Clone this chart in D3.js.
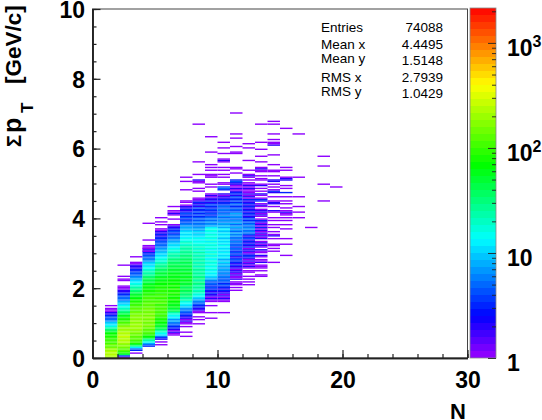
<!DOCTYPE html>
<html>
<head>
<meta charset="utf-8">
<script src="https://cdn.jsdelivr.net/npm/d3@7"></script>
<style>
  html, body { margin: 0; background: #fff; }
  text { font-family: "Liberation Sans", Arial, sans-serif; fill: #000; }
  .bold { font-weight: bold; }
</style>
</head>
<body>
<div id="chart"></div>
<script>
var svgWidth = 542;
var svgHeight = 420;

var binWidth = 0.04;  // y bin of the histogram in GeV/c

// counts per N column, each piece is [first y bin, count, count, ...]
var col1 = [[0,210,240,220,250,230,200,190,150,130,140,110,105,100,90,95,85,80,70,60,40,32,25,18,13,11,9,7,5,4,4,3,2,2,1,1,1],[37,1]];
var col2 = [[0,1,3,40,70,95,120,130,140,160,170,190,220,240,250,230,260,240,220,230,210,200,190,170,140,125,110,100,85,75,60,55,45,38,30,25,20,16,14,11,9,8,6,5,5,4,3,3,2,2,1,1,1],[55,1],[56,1],[58,1],[66,1]];
var col3 = [[3,1],[5,3,5,12,25,50,75,90,105,120,130,125,140,150,170,180,190,200,185,195,200,180,190,175,170,180,165,150,140,130,120,125,110,100,95,90,85,75,70,60,55,50,42,38,32,28,24,20,18,15,12,10,8,7,6,5,4,4,3,3,2,2,2,1,1],[72,1]];
var col4 = [[8,3,5,8,14,25,28,60,70,85,100,110,125,130,140,150,160,145,150,165,155,160,170,150,165,145,155,140,150,135,130,120,125,110,115,100,105,90,95,85,80,75,70,60,65,55,50,45,40,42,35,30,28,25,22,20,17,15,13,11,10,9,7,6,5,5,4,3,3,2,2,1,1],[76,1],[78,1],[80,1],[84,1],[96,1]];
var col5 = [[9,1],[11,1],[13,2,3,6,10,14,18,25,35,40,50,55,60,65,70,80,85,90,100,95,105,110,100,115,105,110,95,120,100,110,90,105,95,100,85,90,95,80,85,75,70,72,65,60,55,58,50,45,48,40,38,35,30,28,26,22,20,18,16,14,12,11,10,9,8,8,7,6,5,5,4,4,3,3,3,2,3,2,2,1,1],[95,1],[97,1],[100,1]];
var col6 = [[16,1,1,2,1,2,3,3,4,5,6,8,7,10,12,14,16,25,35,42,50,55,60,62,70,65,75,80,72,85,78,90,82,75,88,70,80,75,72,68,65,70,60,58,62,55,50,48,52,45,42,40,38,35,32,30,28,25,24,22,20,18,16,14,12,11,10,9,8,7,6,5,5,4,3,4,3,3,2,2,1],[99,1],[102,1,2,1,1],[108,1]];
var col7 = [[15,1],[18,1],[22,1],[24,1,1,2,1,2,2,3,3,4,5,6,7,9,11,13,15,18,22,25,28,32,30,35,38,40,42,38,45,50,48,52,55,50,58,52,48,55,50,45,48,42,46,40,38,42,36,35,32,34,30,28,26,28,24,22,24,20,18,20,16,14,15,13,12,11,12,10,9,8,8,7,6,5,4,4,3,4,3,3,4,3,2,3,2,2,1,0,1,1],[120,1],[126,1],[129,1]];
var col8 = [[24,1],[27,1],[29,1],[32,1,1,2,2,3,3,4,5,6,7,9,11,14,16,18,22,20,25,28,24,26,30,27,25,28,30,26,24,28,25,22,26,24,20,23,25,21,24,22,20,23,19,21,22,18,20,17,19,16,18,14,15,13,14,12,10,11,9,10,8,8,7,6,6,5,6,4,5,4,3,4,3,4,3,3,4,2,3,2,3,2,1,1],[119,1,0,1],[125,1,1,2],[131,1],[140,1],[167,1]];
var col9 = [[28,1],[32,1],[37,1],[40,1,1,2,1,2,2,3,2,3,3,4,3,4,5,4,6,8,9,11,13,12,14,13,16,14,15,17,14,16,18,15,13,17,15,19,14,16,13,18,15,17,14,16,13,17,15,18,14,16,13,15,17,14,13,8,7,6,7,5,6,5,4,3,4,3,3,4,3,3,4,3,2,3,2,2,1,2,1],[122,1,0,1],[129,1,1],[131,1],[134,1,0,1,0,1],[147,1],[158,1]];
var col10 = [[32,1],[40,1,1,2,1,2,1,2,2,3,2,3,3,4,3,4,5,4,5,6,5,7,6,7,8,7,8,9,8,10,9,8,10,12,11,13,12,10,13,11,12,14,11,13,10,12,9,11,13,10,12,9,10,12,8,9,7,8,6,7,6,5,7,5,6,4,5,6,4,5,4,3,3,2,3,2,2,1,2,0,0,3,5,4,0,1,1],[129,1,0,1],[134,1],[136,1],[140,1,2,1],[146,1],[150,1],[154,1]];
var col11 = [[48,1],[50,1],[52,1,1,1,0,2,1,1,2,1,2,2,1,2,2,3,2,3,3,4,3,2,4,3,4,3,4,5,3,5,4,5,6,4,6,5,7,6,8,5,7,6,8,7,5,8,6,7,5,6,7,6,8,5,4,5,4,3,4,5,3,4,3,3,4,2,3,3,2,1,2,1,1,2,1],[125,3,4,3],[132,1],[135,1,1],[146,1,1],[151,1],[157,1],[160,1],[175,1]];
var col12 = [[52,1,0,1,0,1,0,1,0,0,1,1,0,1,2,1,2,1,2,1,2,3,3,2,1,2,2,1,3,2,3,2,3,2,4,3,2,4,5,6,5,7,6,5,6,4,5,3,4,3,2,3,3,2,3,2,2,3,2,3,2,2,3,1,2,1,2,1,1,1,2,1,2,1,1,0,1,0,1,2,1],[134,1],[141,1],[150,1],[153,1]];
var col13 = [[58,1,1,0,0,1,0,1,1,1,0,2,1,1,0,1,2,0,1,1,2,0,1,2,1,2,1,0,2,1,2,1,2,1,2,1,3,1,2,1,2,3,1,0,1,2,1,2,2,1,0,1,2,1,0,3,3,1,0,1,2,0,1,0,1,0,2,1,0,0,1],[128,1,0,1],[133,1,1,2,1],[140,1],[144,1],[149,1],[154,1],[167,1]];
var col14 = [[68,1],[76,1],[78,1],[80,1,1],[85,1,0,2,1,0,1],[93,1,0,1,0,0,1,0,1,0,0,0,1,2,0,0,1,0,2,2,1,0,0,1,0,0,2,3,1,0,1,0,1,0,2,2,0,0,1],[133,1,1],[138,1],[145,1],[152,2,1,1],[156,1],[160,1],[167,1,0,1]];
var col15 = [[73,1],[81,1],[85,1],[92,1,0,0,1,0,0,1],[100,1,0,1,1,2,1,0,1],[110,1,0,1],[115,1,0,0,3,0,0,1,0,1],[127,2,2,1],[134,1,0,1],[164,1]];
var col16 = [[100,1],[104,1],[108,1],[115,1],[129,1],[160,1]];
var col17 = [[93,1]];
var col18 = [[112,1],[124,1],[137,1],[144,1]];
var col19 = [[122,1]];
var allCols = [col1,col2,col3,col4,col5,col6,col7,col8,col9,col10,col11,col12,col13,col14,col15,col16,col17,col18,col19];

var xTicks = [0, 10, 20, 30];
var yTicks = [0, 2, 4, 6, 8, 10];
var zTicks = [1, 10, 100, 1000];
var zMinor = [2,3,4,5,6,7,8,9,20,30,40,50,60,70,80,90,200,300,400,500,600,700,800,900,2000];
var zMax = 2150;
var nColors = 50;

// palette stops, fraction of the log z range -> colour
var stopFrac = [0, 0.12, 0.34, 0.55, 0.78, 1];
var stopColors = ["#9a00ff", "#0000ff", "#00ffff", "#00ff00", "#ffff00", "#ff0000"];
var statNames = ["Entries", "Mean x", "Mean y", "RMS x", "RMS y"];
var statValues = ["74088", "4.4495", "1.5148", "2.7939", "1.0429"];
var statNameY = [32, 49, 63, 82, 96];
var statValueY = [32, 49, 65, 82, 98];

var svg = d3.select("#chart")
  .append("svg")
  .attr("width", svgWidth)
  .attr("height", svgHeight)
  .style("display", "block");

var xScale = d3.scaleLinear().domain([0, 30]).range([92.5, 467.5]);
var yScale = d3.scaleLinear().domain([0, 10]).range([358, 9]);
var zScale = d3.scaleLog().domain([1, zMax]).range([358, 8]);

var frac = d3.scaleLinear().domain(stopFrac).range(stopColors);

// colour of a count, quantised to the 50 palette steps
function colorOf(v) {
  var f = Math.log(v) / Math.log(zMax);
  var i = Math.min(nColors - 1, Math.floor(f * nColors));
  return frac((i + 0.5) / nColors);
}

// flatten the columns into cells
var cells = [];
allCols.forEach(function(col, c) {
  col.forEach(function(piece) {
    piece.slice(1).forEach(function(v, k) {
      if (v > 0) cells.push({ n: c + 1, bin: piece[0] + k, v: v });
    });
  });
});

svg.append("g").selectAll("rect")
  .data(cells)
  .enter()
  .append("rect")
  .attr("x", d => xScale(d.n))
  .attr("width", d => xScale(d.n + 1) - xScale(d.n))
  .attr("y", d => yScale((d.bin + 1) * binWidth))
  .attr("height", d => yScale(d.bin * binWidth) - yScale((d.bin + 1) * binWidth))
  .attr("fill", d => colorOf(d.v));

// frame
svg.append("rect")
  .attr("x", 92.5).attr("y", 9)
  .attr("width", 375).attr("height", 349)
  .attr("fill", "none")
  .attr("stroke", "#444")
  .attr("stroke-width", 1);

// minor ticks first, then major ones with labels
function styleAxis(g) {
  g.select(".domain").attr("stroke", "#222").attr("stroke-width", 1.6);
  g.selectAll("line").attr("stroke", "#222").attr("stroke-width", 1.2);
}

svg.append("g")
  .attr("transform", "translate(0,358)")
  .call(d3.axisTop(xScale).tickValues(d3.range(0, 31, 2)).tickSize(4).tickSizeOuter(0).tickFormat(""))
  .call(styleAxis);
var xAxis = svg.append("g")
  .attr("transform", "translate(0,358)")
  .call(d3.axisTop(xScale).tickValues(xTicks).tickSize(8).tickSizeOuter(0))
  .call(styleAxis);
xAxis.selectAll("text")
  .attr("class", "bold")
  .attr("y", 30)
  .attr("dy", 0)
  .attr("font-size", 23)
  .attr("text-anchor", "middle");

svg.append("g")
  .attr("transform", "translate(92.5,0)")
  .call(d3.axisRight(yScale).tickValues(d3.range(0, 10.1, 0.5)).tickSize(4).tickSizeOuter(0).tickFormat(""))
  .call(styleAxis);
var yAxis = svg.append("g")
  .attr("transform", "translate(92.5,0)")
  .call(d3.axisRight(yScale).tickValues(yTicks).tickSize(8).tickSizeOuter(0))
  .call(styleAxis);
yAxis.selectAll("text")
  .attr("class", "bold")
  .attr("x", -7.5)
  .attr("dy", "0.36em")
  .attr("font-size", 23)
  .attr("text-anchor", "end");

// palette
var paletteSteps = d3.range(nColors);
svg.append("g").selectAll("rect")
  .data(paletteSteps)
  .enter()
  .append("rect")
  .attr("x", 470)
  .attr("width", 26)
  .attr("y", d => 358 - (d + 1) * 350 / nColors)
  .attr("height", 350 / nColors)
  .attr("fill", d => frac((d + 0.5) / nColors));

svg.append("rect")
  .attr("x", 470).attr("y", 8)
  .attr("width", 26).attr("height", 350)
  .attr("fill", "none")
  .attr("stroke", "#888")
  .attr("stroke-width", 0.8);

svg.append("g")
  .attr("transform", "translate(496,0)")
  .call(d3.axisLeft(zScale).tickValues(zMinor).tickSize(4).tickSizeOuter(0).tickFormat(""))
  .call(g => g.select(".domain").remove())
  .call(g => g.selectAll("line").attr("stroke", "#222").attr("stroke-width", 0.9));
svg.append("g")
  .attr("transform", "translate(496,0)")
  .call(d3.axisLeft(zScale).tickValues(zTicks).tickSize(8).tickSizeOuter(0).tickFormat(""))
  .call(g => g.select(".domain").remove())
  .call(g => g.selectAll("line").attr("stroke", "#222").attr("stroke-width", 0.9));

var zLabels = svg.append("g").selectAll("text")
  .data(zTicks)
  .enter()
  .append("text")
  .attr("class", "bold")
  .attr("font-size", 23)
  .attr("x", 507)
  .attr("y", d => zScale(d) + 13);
zLabels.append("tspan").text(d => d < 100 ? String(d) : "10");
zLabels.filter(d => d >= 100).append("tspan")
  .attr("font-size", 16)
  .attr("dy", -9)
  .text(d => Math.round(Math.log10(d)));

// stats box text
svg.append("g").selectAll("text")
  .data(statNames)
  .enter()
  .append("text")
  .attr("x", 321)
  .attr("y", (d, i) => statNameY[i])
  .attr("font-size", 13.5)
  .text(d => d);
svg.append("g").selectAll("text")
  .data(statValues)
  .enter()
  .append("text")
  .attr("x", 443)
  .attr("y", (d, i) => statValueY[i])
  .attr("font-size", 13.5)
  .attr("text-anchor", "end")
  .text(d => d);

// axis titles
svg.append("text")
  .attr("class", "bold")
  .attr("x", 450)
  .attr("y", 419)
  .attr("font-size", 22)
  .text("N");

var yTitle = svg.append("g").attr("transform", "translate(21,147) rotate(-90)");
yTitle.append("text").attr("class", "bold").attr("font-size", 20).attr("x", 0).attr("y", 0).text("Σ");
yTitle.append("text").attr("class", "bold").attr("font-size", 25).attr("x", 14).attr("y", 0).text("p");
yTitle.append("text").attr("class", "bold").attr("font-size", 17).attr("x", 34).attr("y", 12).text("T");
yTitle.append("text").attr("class", "bold").attr("font-size", 22.5).attr("x", 63).attr("y", 0).text("[GeV/c]");
</script>
</body>
</html>
